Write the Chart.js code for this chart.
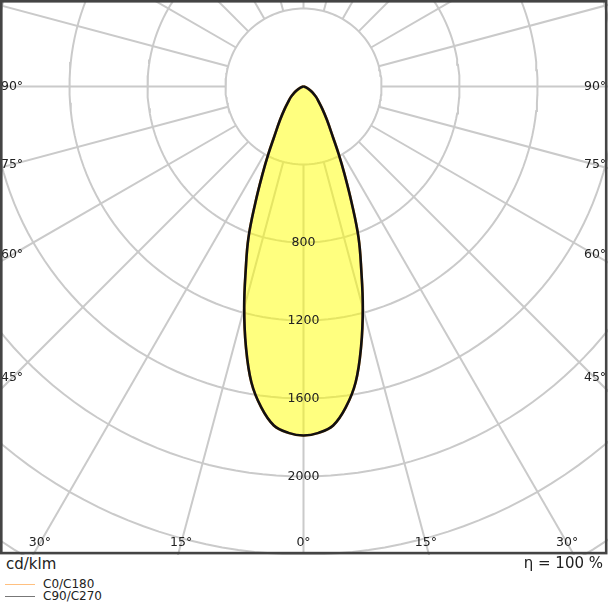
<!DOCTYPE html>
<html><head><meta charset="utf-8">
<script src="https://cdn.jsdelivr.net/npm/chart.js@4/dist/chart.umd.min.js"></script>
<style>
html,body{margin:0;padding:0;background:#fff;width:608px;height:608px;overflow:hidden;font-family:"DejaVu Sans",sans-serif;}
#wrap{position:absolute;left:0;top:0;width:608px;height:555px;}
#unit{position:absolute;left:6px;top:555px;font-size:15px;color:#222;line-height:18px}
#eta{position:absolute;right:5px;top:554px;font-size:15px;color:#222;line-height:18px}
.leg{position:absolute;left:5px;font-size:12px;color:#222;line-height:12px;white-space:nowrap}
.leg i{display:inline-block;width:30px;height:0;border-top:1px solid;vertical-align:middle;margin-right:8px}
</style></head>
<body>
<div id="wrap"><canvas id="c" width="608" height="555"></canvas></div>
<div id="unit">cd/klm</div>
<div id="eta">η = 100 %</div>
<div class="leg" style="top:578px"><i style="border-color:#ffc080"></i>C0/C180</div>
<div class="leg" style="top:590px"><i style="border-color:#777"></i>C90/C270</div>
<script>
// ---- data (cd/klm) ----
const angles = [0,2.5,5,7.5,10,12.5,15,17.5,20,22.5,25,27.5,30,35,40,45,50,55,60,65,70,75,80,85,90];
const c0c180  = [1790,1778,1745,1660,1540,1365,1175,985,825,645,500,390,305,210,150,110,85,60,41,25,15,9,5,2,0];
const c90c270 = [1790,1778,1745,1660,1540,1365,1175,985,825,645,500,390,305,210,150,110,85,60,41,25,15,9,5,2,0];
const radiusLabels = [800,1200,1600,2000];
const gridRadii = [400,800,1200,1600,2000,2400,2800,3200];
const spokeAngles = [0,15,30,45,60,75,90,105,120,135,150,165,180,195,210,225,240,255,270,285,300,315,330,345];
const angleLabels = [0,15,30,45,60,75,90];

const rad = d => d*Math.PI/180;
function polar(theta, r){ return {x: r*Math.sin(rad(theta)), y: -r*Math.cos(rad(theta))}; }
function curve(vals){
  const pts = [];
  for (let i = angles.length-1; i >= 0; i--) pts.push(polar(-angles[i], vals[i]));
  for (let i = 1; i < angles.length; i++) pts.push(polar(angles[i], vals[i]));
  return pts;
}
const gridColor = 'rgb(202,202,202)';
const gridSets = [];
gridRadii.forEach(r => {
  const pts = [];
  for (let a = 0; a <= 360; a += 2) pts.push(polar(a, r));
  gridSets.push({data: pts, borderColor: gridColor, borderWidth: 2, showLine: true, pointRadius: 0, fill: false, tension: 0});
});
spokeAngles.forEach(a => {
  gridSets.push({data: [polar(a, 400), polar(a, 4000)], borderColor: gridColor, borderWidth: 2, showLine: true, pointRadius: 0, fill: false, tension: 0});
});

const PXU = 0.195, CX = 303.5, CY = 86.5, W = 608, H = 555;
const xMin = -CX/PXU, xMax = (W-CX)/PXU, yMax = CY/PXU, yMin = (CY-H)/PXU;

const overlay = {
  id: 'overlay',
  afterDatasetsDraw(chart){
    const ctx = chart.ctx, xs = chart.scales.x, ys = chart.scales.y;
    const cx = xs.getPixelForValue(0), cy = ys.getPixelForValue(0);
    ctx.save();
    ctx.fillStyle = '#222';
    ctx.font = '12.5px "DejaVu Sans"';
    ctx.textAlign = 'center'; ctx.textBaseline = 'middle';
    radiusLabels.forEach(r => ctx.fillText(String(r), cx, ys.getPixelForValue(-r)));
    const dxMax = cx - 12, dyMax = (chart.chartArea.bottom - 12) - cy;
    angleLabels.forEach(a => {
      const sides = a === 0 ? [1] : [-1, 1];
      sides.forEach(s => {
        const sx = Math.sin(rad(a)), cy2 = Math.cos(rad(a));
        let t = Infinity;
        if (sx > 1e-6) t = Math.min(t, dxMax/sx);
        if (cy2 > 1e-6) t = Math.min(t, dyMax/cy2);
        ctx.fillText(a + '°', cx + s*t*sx, cy + t*cy2);
      });
    });
    ctx.strokeStyle = '#444';
    ctx.lineWidth = 2.6;
    ctx.strokeRect(1.3, 1.3, W - 2.6 - 0.5, H - 2.6 - 0.6);
    ctx.restore();
  }
};

new Chart(document.getElementById('c'), {
  type: 'scatter',
  data: { datasets: [
    {label: 'C90/C270', data: curve(c90c270), borderColor: '#111', borderWidth: 2.6, showLine: true, pointRadius: 0, fill: false, tension: 0.4},
    {label: 'C0/C180', data: curve(c0c180), borderColor: '#f0a040', backgroundColor: 'rgba(255,255,0,0.5)', borderWidth: 2.6, showLine: true, pointRadius: 0, fill: 'shape', tension: 0.4},
    ...gridSets
  ]},
  options: {
    responsive: false, animation: false, maintainAspectRatio: false,
    layout: {padding: 0},
    scales: {
      x: {type: 'linear', min: xMin, max: xMax, display: false},
      y: {type: 'linear', min: yMin, max: yMax, display: false}
    },
    plugins: {legend: {display: false}, tooltip: {enabled: false}, filler: {drawTime: 'beforeDatasetDraw'}}
  },
  plugins: [overlay]
});
</script>
</body></html>
